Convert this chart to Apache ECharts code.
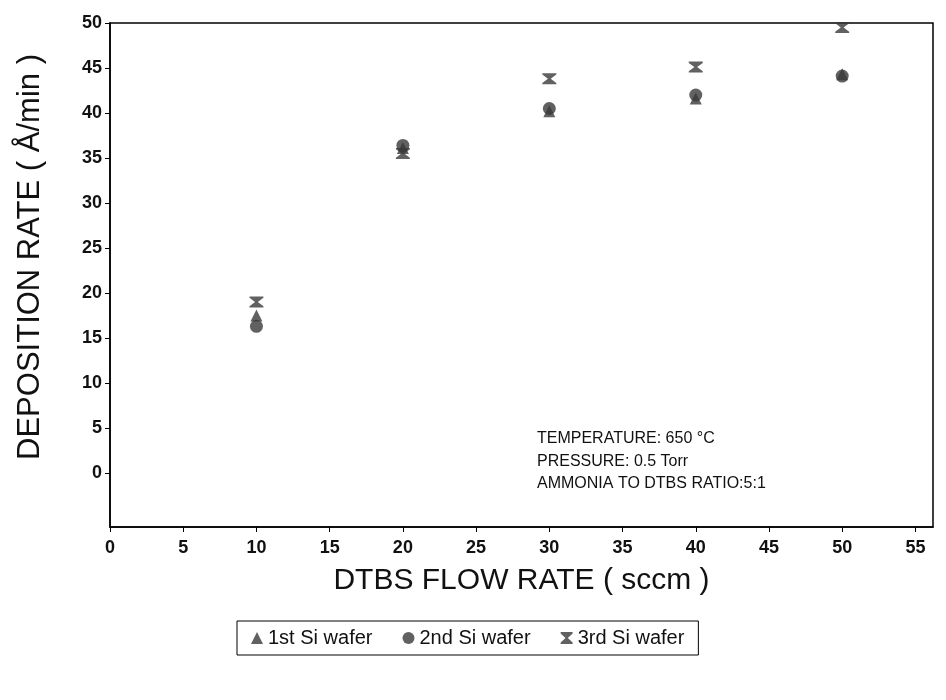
<!DOCTYPE html>
<html>
<head>
<meta charset="utf-8">
<script src="https://cdn.jsdelivr.net/npm/echarts@6/dist/echarts.min.js"></script>
<style>
html,body{margin:0;padding:0;background:#fff;}
#chart{width:946px;height:700px;}
</style>
</head>
<body>
<div id="chart"></div>
<script>
// Data
var flowRates = [10, 20, 30, 40, 50];
var wafer1 = [17.5, 36.1, 40.2, 41.6, 44.3];
var wafer2 = [16.3, 36.4, 40.5, 42.0, 44.1];
var wafer3 = [19.0, 35.5, 43.8, 45.1, 49.5];
var seriesNames = ['1st Si wafer', '2nd Si wafer', '3rd Si wafer'];
var xTicks = [0, 5, 10, 15, 20, 25, 30, 35, 40, 45, 50, 55];
var yTicks = [0, 5, 10, 15, 20, 25, 30, 35, 40, 45, 50];
var xTitle = 'DTBS FLOW RATE ( sccm )';
var yTitle = 'DEPOSITION RATE ( \u00C5/min )';
var notes = ['TEMPERATURE: 650 \u00B0C', 'PRESSURE: 0.5 Torr', 'AMMONIA TO DTBS RATIO:5:1'];

function pairs(ys) { return flowRates.map(function (x, i) { return [x, ys[i]]; }); }

var hourglass = 'path://M0,0 L10,0 L10,1.2 L6,5 L10,8.8 L10,10 L0,10 L0,8.8 L4,5 L0,1.2 Z';
var mk = '#3a3a3a';
var font = '"Liberation Sans", Arial, sans-serif';

var chart = echarts.init(document.getElementById('chart'));
var graphics = notes.map(function (t, i) {
  return { type: 'text', left: 537, top: 431 + i * 22.5,
    style: { text: t, fontFamily: font, fontSize: 16, fill: '#111' } };
});
graphics.push({ type: 'text', x: 30, y: 257, rotation: Math.PI / 2,
  style: { text: yTitle, fontFamily: font, fontSize: 31, fill: '#111', align: 'center', verticalAlign: 'middle' } });

chart.setOption({
  animation: false,
  backgroundColor: '#fff',
  grid: { left: 110, top: 23, right: 13, bottom: 173, show: true, borderColor: '#000', borderWidth: 1.5 },
  xAxis: {
    type: 'value', min: 0, max: 56.2,
    name: xTitle, nameLocation: 'middle', nameGap: 39,
    nameTextStyle: { fontFamily: font, fontSize: 30, color: '#111' },
    axisLine: { show: true, onZero: false, lineStyle: { color: '#000', width: 1.5 } },
    axisTick: { show: true, length: 5, customValues: xTicks, lineStyle: { color: '#000' } },
    axisLabel: { customValues: xTicks, fontFamily: font, fontSize: 18, fontWeight: 'bold', color: '#111', margin: 12 },
    splitLine: { show: false }
  },
  yAxis: {
    type: 'value', min: -6, max: 50,
    axisLine: { show: true, onZero: false, lineStyle: { color: '#000', width: 1.5 } },
    axisTick: { show: true, length: 5, customValues: yTicks, lineStyle: { color: '#000' } },
    axisLabel: { customValues: yTicks, fontFamily: font, fontSize: 18, fontWeight: 'bold', color: '#111', margin: 8 },
    splitLine: { show: false }
  },
  legend: {
    left: 237, top: 621, width: 470,
    data: seriesNames,
    itemWidth: 12, itemHeight: 12, itemGap: 30,
    borderColor: '#000', borderWidth: 1, padding: [7, 14, 7, 14],
    textStyle: { fontFamily: font, fontSize: 20, color: '#111' }
  },
  graphic: graphics,
  series: [
    { name: seriesNames[0], type: 'scatter', data: pairs(wafer1), symbol: 'triangle', symbolSize: 12, itemStyle: { color: mk } },
    { name: seriesNames[1], type: 'scatter', data: pairs(wafer2), symbol: 'circle', symbolSize: 13, itemStyle: { color: mk } },
    { name: seriesNames[2], type: 'scatter', data: pairs(wafer3), symbol: hourglass, symbolSize: [14, 11], itemStyle: { color: mk } }
  ]
});
</script>
</body>
</html>
